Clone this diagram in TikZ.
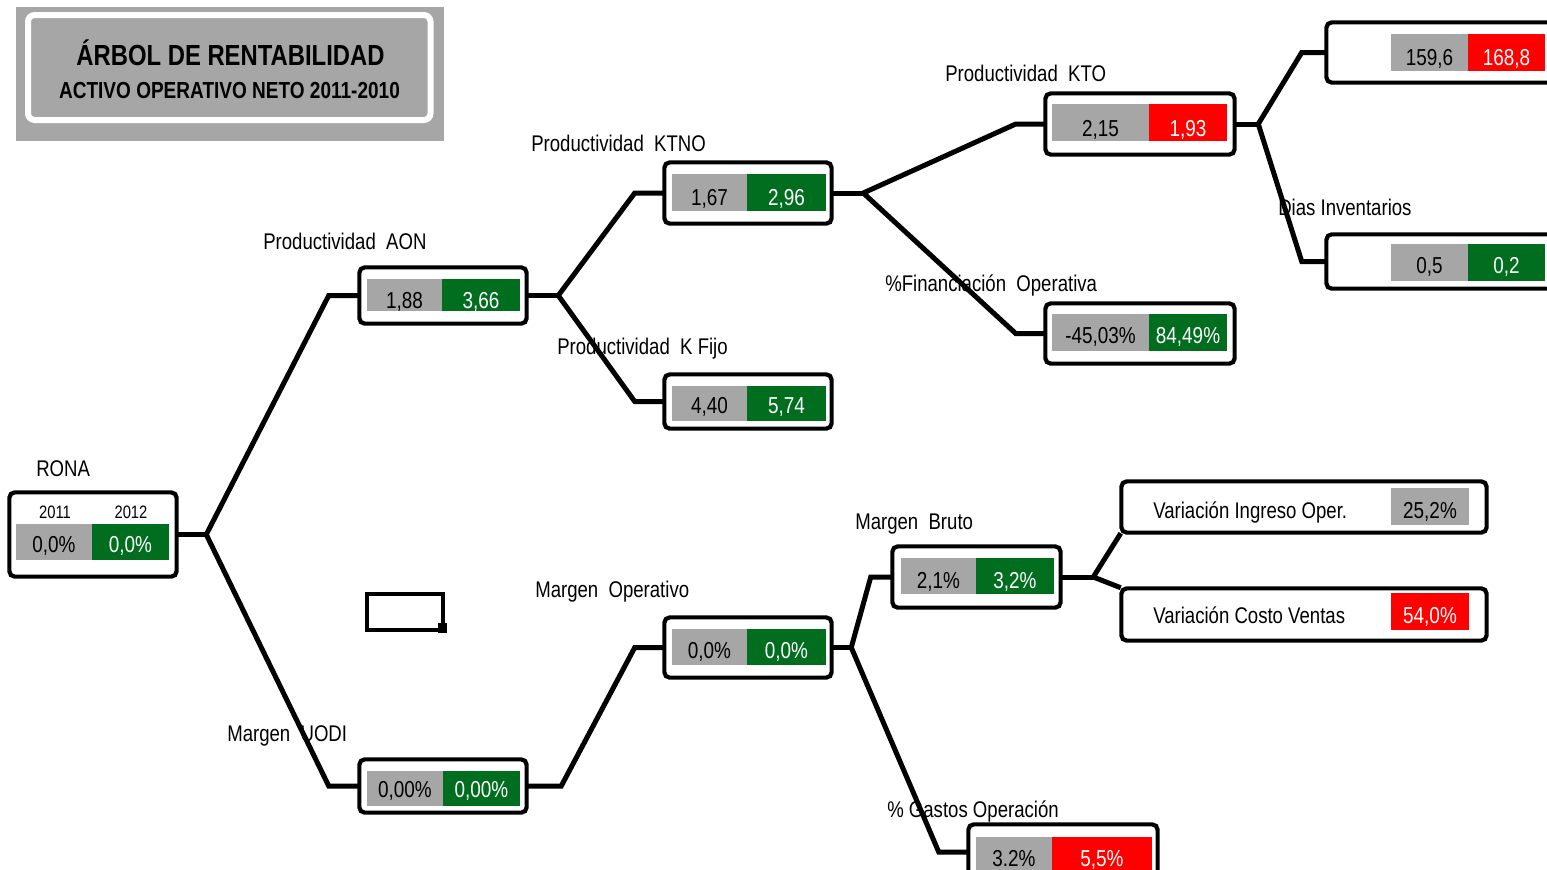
\documentclass[tikz,border=0pt]{standalone}
\usepackage{fontspec}
\setmainfont{Liberation Sans}[FakeStretch=0.82]
\usetikzlibrary{fit,calc}
\definecolor{cellgray}{HTML}{A6A6A6}
\definecolor{cellgreen}{HTML}{006E1E}
\definecolor{cellred}{HTML}{FF0000}
\tikzset{
  frame/.style={draw=black, line width=1.9pt, rounded corners=4pt, fill=white, inner sep=0pt},
  gcell/.style={fill=cellgray, inner sep=0pt},
  vcell/.style={fill=cellgreen, inner sep=0pt},
  rcell/.style={fill=cellred, inner sep=0pt},
  val/.style={font=\fontsize{17.3}{20}\selectfont, inner sep=0pt, anchor=base},
  wval/.style={val, text=white},
  lbl/.style={font=\fontsize{17}{20}\selectfont, inner sep=0pt, anchor=base west},
  hdr/.style={font=\fontsize{13.5}{16}\selectfont, inner sep=0pt, anchor=base},
  link/.style={draw=black, line width=3.75pt}
}
\begin{document}
\begin{tikzpicture}[x=0.75pt, y=-0.75pt]
\clip (0,0) rectangle (1547,869);

% title block
\node[fill=cellgray, inner sep=0pt, fit={(16,7)(444,141)}] (titlebg) {};
\node[draw=white, line width=4.5pt, rounded corners=5pt, inner sep=0pt, fit={(28,15)(430.5,120)}] (titleframe) {};
\node[font=\bfseries\fontsize{21.8}{24}\selectfont, inner sep=0pt, anchor=base] (title1) at (230.5,65) {ÁRBOL DE RENTABILIDAD};
\node[font=\bfseries\fontsize{17.4}{20}\selectfont, inner sep=0pt, anchor=base] (title2) at (229.5,98) {ACTIVO OPERATIVO NETO 2011-2010};

% branch labels
\node[lbl] (l-rona) at (36,476) {RONA};
\node[lbl] (l-aon) at (263,249) {Productividad\ \ AON};
\node[lbl] (l-ktno) at (531,151) {Productividad\ \ KTNO};
\node[lbl] (l-kfijo) at (557,354) {Productividad\ \ K Fijo};
\node[lbl] (l-kto) at (945,81) {Productividad\ \ KTO};
\node[lbl] (l-fin) at (885,291) {\%Financiación\ \ Operativa};
\node[lbl] (l-dias) at (1278,215) {Dias Inventarios};
\node[lbl] (l-uodi) at (227,741) {Margen\ \ UODI};
\node[lbl] (l-mo) at (535,597) {Margen\ \ Operativo};
\node[lbl] (l-mb) at (855,529) {Margen\ \ Bruto};
\node[lbl] (l-go) at (887,817) {\% Gastos Operación};

% box outlines (placed first so connectors can reference them)
\path
  node[frame, fit={(10,493)(176,576)}] (rona) {}
  node[frame, fit={(360,268)(526,323)}] (aon) {}
  node[frame, fit={(665,163)(831,223)}] (ktno) {}
  node[frame, fit={(665,375)(831,428)}] (kfijo) {}
  node[frame, fit={(1046,94)(1234,154)}] (kto) {}
  node[frame, fit={(1046,304)(1234,363)}] (fin) {}
  node[frame, fit={(1327,23)(1570,82)}] (tr) {}
  node[frame, fit={(1327,235)(1570,288)}] (dias) {}
  node[frame, fit={(360,760)(526,812)}] (uodi) {}
  node[frame, fit={(665,618)(831,677)}] (mo) {}
  node[frame, fit={(893,547)(1060,607)}] (mb) {}
  node[frame, fit={(1122,482)(1486,532)}] (vio) {}
  node[frame, fit={(1122,589)(1486,640)}] (vcv) {}
  node[frame, fit={(969,825)(1157,879)}] (go) {};

% connectors
\coordinate (j0) at ($(rona.east)+(29,0)$);
\coordinate (j1) at ($(aon.east)+(31,0)$);
\coordinate (j2) at ($(ktno.east)+(31,0)$);
\coordinate (j3) at ($(kto.east)+(23,0)$);
\coordinate (j4) at ($(uodi.east)+(34,0)$);
\coordinate (j5) at ($(mo.east)+(19,0)$);
\coordinate (j6) at ($(mb.east)+(32,0)$);

\draw[link] (rona.east) -- (j0);
\draw[link] (aon.west) -- ++(-30,0) -- (j0) -- ($(uodi.west)+(-30,0)$) -- (uodi.west);
\draw[link] (aon.east) -- (j1);
\draw[link] (ktno.west) -- ++(-29,0) -- (j1) -- ($(kfijo.west)+(-29,0)$) -- (kfijo.west);
\draw[link] (ktno.east) -- (j2);
\draw[link] (kto.west) -- ++(-29,0) -- (j2) -- ($(fin.west)+(-29,0)$) -- (fin.west);
\draw[link] (kto.east) -- (j3);
\draw[link] (tr.west) -- ++(-24,0) -- (j3) -- ($(dias.west)+(-24,0)$) -- (dias.west);
\draw[link] (uodi.east) -- (j4) -- ($(mo.west)+(-29,0)$) -- (mo.west);
\draw[link] (mo.east) -- (j5);
\draw[link] (mb.west) -- ++(-21,0) -- (j5) -- ($(go.west)+(-29,0)$) -- (go.west);
\draw[link] (mb.east) -- (j6);
\draw[link] (vio.south west) -- (j6) -- (vcv.north west);

% redraw outlines over connector ends
\foreach \b in {rona,aon,ktno,kfijo,kto,fin,tr,dias,uodi,mo,mb,vio,vcv,go}{
  \draw[line width=1.9pt, rounded corners=4pt] (\b.south west) rectangle (\b.north east);
}

% RONA
\node[hdr] (h-2011) at (55,518) {2011};
\node[hdr] (h-2012) at (131,518) {2012};
\node[gcell, fit={(16,524)(92,560)}] (rona-a) {};
\node[vcell, fit={(92,524)(169,560)}] (rona-b) {};
\node[val] (rona-av) at (54,552) {0,0\%};
\node[wval] (rona-bv) at (130.5,552) {0,0\%};

% Productividad AON
\node[gcell, fit={(367,279)(442,311)}] (aon-a) {};
\node[vcell, fit={(442,279)(520,311)}] (aon-b) {};
\node[val] (aon-av) at (404.5,308) {1,88};
\node[wval] (aon-bv) at (481,308) {3,66};

% Productividad KTNO
\node[gcell, fit={(672,174)(747,211)}] (ktno-a) {};
\node[vcell, fit={(747,174)(826,211)}] (ktno-b) {};
\node[val] (ktno-av) at (709.5,205) {1,67};
\node[wval] (ktno-bv) at (786.5,205) {2,96};

% Productividad K Fijo
\node[gcell, fit={(672,386)(747,421)}] (kfijo-a) {};
\node[vcell, fit={(747,386)(826,421)}] (kfijo-b) {};
\node[val] (kfijo-av) at (709.5,413) {4,40};
\node[wval] (kfijo-bv) at (786.5,413) {5,74};

% Productividad KTO
\node[gcell, fit={(1052,104)(1149,141)}] (kto-a) {};
\node[rcell, fit={(1149,104)(1227,141)}] (kto-b) {};
\node[val] (kto-av) at (1100.5,136) {2,15};
\node[wval] (kto-bv) at (1188,136) {1,93};

% %Financiacion Operativa
\node[gcell, fit={(1052,314)(1149,351)}] (fin-a) {};
\node[vcell, fit={(1149,314)(1227,351)}] (fin-b) {};
\node[val] (fin-av) at (1100.5,343) {-45,03\%};
\node[wval] (fin-bv) at (1188,343) {84,49\%};

% upper right pair
\node[gcell, fit={(1391,34)(1468,71)}] (tr-a) {};
\node[rcell, fit={(1468,34)(1545,71)}] (tr-b) {};
\node[val] (tr-av) at (1429.5,65) {159,6};
\node[wval] (tr-bv) at (1506.5,65) {168,8};

% Dias Inventarios
\node[gcell, fit={(1391,244)(1468,281)}] (dias-a) {};
\node[vcell, fit={(1468,244)(1545,281)}] (dias-b) {};
\node[val] (dias-av) at (1429.5,273) {0,5};
\node[wval] (dias-bv) at (1506.5,273) {0,2};

% Margen UODI
\node[gcell, fit={(367,771)(443,806)}] (uodi-a) {};
\node[vcell, fit={(443,771)(520,806)}] (uodi-b) {};
\node[val] (uodi-av) at (405,797) {0,00\%};
\node[wval] (uodi-bv) at (481.5,797) {0,00\%};

% Margen Operativo
\node[gcell, fit={(672,629)(747,665)}] (mo-a) {};
\node[vcell, fit={(747,629)(826,665)}] (mo-b) {};
\node[val] (mo-av) at (709.5,658) {0,0\%};
\node[wval] (mo-bv) at (786.5,658) {0,0\%};

% Margen Bruto
\node[gcell, fit={(901,558)(976,594)}] (mb-a) {};
\node[vcell, fit={(976,558)(1054,594)}] (mb-b) {};
\node[val] (mb-av) at (938.5,588) {2,1\%};
\node[wval] (mb-bv) at (1015,588) {3,2\%};

% Variacion boxes
\node[lbl] (vio-t) at (1153,518) {Variación Ingreso Oper.};
\node[gcell, fit={(1391,488)(1469,525)}] (vio-a) {};
\node[val] (vio-av) at (1430,518) {25,2\%};
\node[lbl] (vcv-t) at (1153,623) {Variación Costo Ventas};
\node[rcell, fit={(1391,593)(1469,630)}] (vcv-a) {};
\node[wval] (vcv-av) at (1430,623) {54,0\%};

% % Gastos Operacion
\node[gcell, fit={(976,837)(1052,900)}] (go-a) {};
\node[rcell, fit={(1052,837)(1152,900)}] (go-b) {};
\node[val] (go-av) at (1014,866) {3.2\%};
\node[wval] (go-bv) at (1102,866) {5,5\%};

% empty selected cell
\node[draw=black, line width=3pt, inner sep=0pt, fit={(367,594)(443,630)}] (selcell) {};
\node[fill=black, inner sep=0pt, fit={(438,623)(447,633)}] (selhandle) {};
\end{tikzpicture}
\end{document}
